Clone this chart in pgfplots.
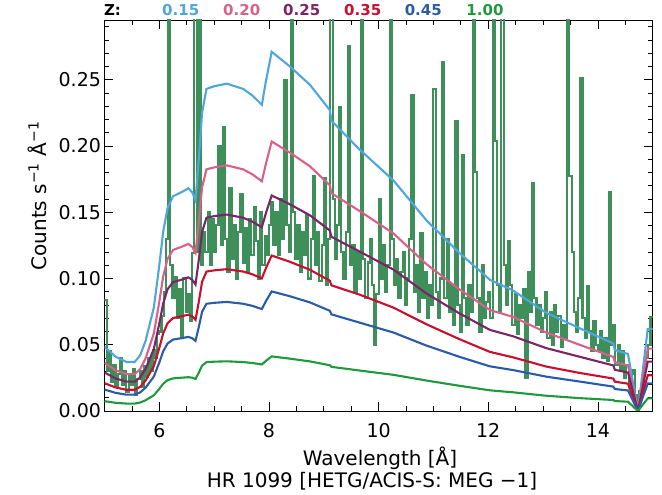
\documentclass[border=0pt]{standalone}
\usepackage{fontspec}
\setmainfont{DejaVu Sans}
\usepackage{pgfplots}
\usepackage{pgfplotstable}
\pgfplotsset{compat=1.18}
\definecolor{clb}{HTML}{4DA6DC}
\definecolor{cpk}{HTML}{D9608A}
\definecolor{cpu}{HTML}{7B2466}
\definecolor{crd}{HTML}{C8102E}
\definecolor{cbl}{HTML}{2A5BA8}
\definecolor{cgr}{HTML}{1E9A3C}
\definecolor{cdata}{HTML}{3F8F5B}

\pgfplotstableread{
x lb pk pu rd bl gr
5.00 0.0485 0.0364 0.0291 0.0210 0.0162 0.0074
5.20 0.0410 0.0308 0.0246 0.0178 0.0137 0.0062
5.40 0.0370 0.0278 0.0222 0.0160 0.0123 0.0056
5.55 0.0370 0.0278 0.0222 0.0160 0.0123 0.0056
5.65 0.0420 0.0315 0.0252 0.0182 0.0140 0.0064
5.75 0.0530 0.0398 0.0318 0.0230 0.0176 0.0081
5.90 0.0780 0.0585 0.0468 0.0338 0.0260 0.0119
6.00 0.1100 0.0825 0.0660 0.0476 0.0366 0.0167
6.07 0.1350 0.1013 0.0810 0.0585 0.0450 0.0205
6.15 0.1530 0.1148 0.0918 0.0662 0.0509 0.0233
6.25 0.1620 0.1215 0.0972 0.0701 0.0539 0.0246
6.40 0.1650 0.1238 0.0990 0.0714 0.0549 0.0251
6.53 0.1680 0.1260 0.1008 0.0727 0.0559 0.0255
6.60 0.1650 0.1238 0.0990 0.0714 0.0549 0.0251
6.66 0.1590 0.1193 0.0954 0.0688 0.0529 0.0242
6.72 0.1900 0.1425 0.1140 0.0823 0.0633 0.0289
6.78 0.2250 0.1688 0.1350 0.0974 0.0749 0.0342
6.86 0.2430 0.1823 0.1458 0.1052 0.0809 0.0369
7.00 0.2450 0.1838 0.1470 0.1061 0.0816 0.0372
7.23 0.2470 0.1853 0.1482 0.1070 0.0823 0.0375
7.53 0.2430 0.1823 0.1458 0.1052 0.0809 0.0369
7.70 0.2380 0.1785 0.1428 0.1031 0.0793 0.0362
7.87 0.2310 0.1733 0.1386 0.1000 0.0769 0.0351
7.95 0.2500 0.1875 0.1500 0.1083 0.0833 0.0380
8.05 0.2710 0.2033 0.1626 0.1173 0.0902 0.0412
8.38 0.2600 0.1950 0.1560 0.1126 0.0866 0.0395
8.75 0.2460 0.1845 0.1476 0.1065 0.0819 0.0374
9.11 0.2270 0.1703 0.1362 0.0983 0.0756 0.0345
9.14 0.2190 0.1643 0.1314 0.0948 0.0729 0.0333
9.66 0.1970 0.1507 0.1202 0.0877 0.0666 0.0305
10.27 0.1740 0.1340 0.1067 0.0780 0.0592 0.0273
10.87 0.1440 0.1109 0.0888 0.0655 0.0494 0.0230
11.48 0.1190 0.0916 0.0735 0.0541 0.0408 0.0190
12.03 0.0990 0.0762 0.0612 0.0446 0.0337 0.0156
12.45 0.0910 0.0710 0.0564 0.0405 0.0309 0.0141
13.06 0.0740 0.0592 0.0474 0.0335 0.0259 0.0115
13.67 0.0624 0.0499 0.0409 0.0287 0.0222 0.0097
14.28 0.0510 0.0408 0.0344 0.0245 0.0184 0.0083
14.31 0.0460 0.0368 0.0311 0.0221 0.0166 0.0075
14.55 0.0430 0.0344 0.0290 0.0206 0.0155 0.0070
14.73 0.0000 0.0000 0.0000 0.0000 0.0000 0.0000
14.91 0.0620 0.0471 0.0372 0.0270 0.0208 0.0095
15.00 0.0620 0.0471 0.0372 0.0270 0.0208 0.0095
}\models

\pgfplotstableread{
x y
5.00 0.084
5.04 0.030
5.08 0.045
5.12 0.022
5.16 0.035
5.20 0.018
5.24 0.028
5.28 0.040
5.32 0.020
5.36 0.030
5.40 0.014
5.44 0.026
5.48 0.020
5.52 0.032
5.56 0.012
5.60 0.024
5.64 0.030
5.68 0.018
5.72 0.034
5.76 0.026
5.80 0.040
5.84 0.030
5.88 0.046
5.92 0.040
5.96 0.058
6.00 0.060
6.04 0.072
6.08 0.090
6.12 0.130
6.16 0.420
6.20 0.110
6.24 0.085
6.28 0.101
6.32 0.070
6.36 0.092
6.40 0.056
6.44 0.100
6.48 0.075
6.52 0.088
6.56 0.068
6.60 0.119
6.64 0.420
6.68 0.120
6.72 0.420
6.76 0.110
6.80 0.135
6.84 0.120
6.88 0.150
6.92 0.110
6.96 0.145
7.00 0.120
7.04 0.140
7.08 0.200
7.12 0.125
7.16 0.214
7.20 0.130
7.24 0.105
7.28 0.168
7.32 0.115
7.36 0.140
7.40 0.100
7.44 0.135
7.48 0.164
7.52 0.112
7.56 0.138
7.60 0.105
7.64 0.145
7.68 0.118
7.72 0.154
7.76 0.128
7.80 0.100
7.84 0.150
7.88 0.110
7.92 0.132
7.96 0.118
8.00 0.140
8.04 0.158
8.08 0.125
8.12 0.150
8.16 0.118
8.20 0.160
8.24 0.130
8.28 0.250
8.32 0.140
8.36 0.120
8.40 0.420
8.44 0.150
8.48 0.115
8.52 0.140
8.56 0.105
8.60 0.135
8.64 0.118
8.68 0.148
8.72 0.100
8.76 0.130
8.80 0.177
8.84 0.110
8.88 0.135
8.92 0.098
8.96 0.125
9.00 0.176
9.04 0.095
9.08 0.130
9.12 0.420
9.16 0.160
9.20 0.115
9.24 0.140
9.28 0.229
9.32 0.120
9.36 0.100
9.40 0.135
9.44 0.275
9.48 0.110
9.52 0.125
9.56 0.090
9.60 0.120
9.64 0.100
9.68 0.420
9.72 0.115
9.76 0.085
9.80 0.112
9.84 0.130
9.88 0.095
9.92 0.050
9.96 0.088
10.00 0.160
10.04 0.100
10.08 0.125
10.12 0.090
10.16 0.110
10.20 0.420
10.24 0.130
10.28 0.095
10.32 0.115
10.36 0.085
10.40 0.105
10.44 0.120
10.48 0.080
10.52 0.100
10.56 0.130
10.60 0.238
10.64 0.090
10.68 0.110
10.72 0.075
10.76 0.134
10.80 0.085
10.84 0.105
10.88 0.070
10.92 0.095
10.96 0.080
11.00 0.243
11.04 0.090
11.08 0.070
11.12 0.100
11.16 0.263
11.20 0.085
11.24 0.130
11.28 0.075
11.32 0.095
11.36 0.065
11.40 0.219
11.44 0.080
11.48 0.060
11.52 0.193
11.56 0.085
11.60 0.065
11.64 0.095
11.68 0.075
11.72 0.420
11.76 0.180
11.80 0.085
11.84 0.060
11.88 0.110
11.92 0.070
11.96 0.082
12.00 0.090
12.04 0.070
12.08 0.420
12.12 0.204
12.16 0.095
12.20 0.075
12.24 0.420
12.28 0.110
12.32 0.080
12.36 0.128
12.40 0.095
12.44 0.065
12.48 0.088
12.52 0.058
12.56 0.080
12.60 0.070
12.64 0.092
12.68 0.025
12.72 0.105
12.76 0.075
12.80 0.172
12.84 0.085
12.88 0.065
12.92 0.080
12.96 0.060
13.00 0.070
13.04 0.090
13.08 0.055
13.12 0.075
13.16 0.050
13.20 0.080
13.24 0.060
13.28 0.072
13.32 0.048
13.36 0.065
13.40 0.055
13.44 0.420
13.48 0.177
13.52 0.120
13.56 0.075
13.60 0.060
13.64 0.085
13.68 0.251
13.72 0.070
13.76 0.055
13.80 0.094
13.84 0.060
13.88 0.045
13.92 0.068
13.96 0.050
14.00 0.045
14.04 0.060
14.08 0.040
14.12 0.055
14.16 0.038
14.20 0.165
14.24 0.050
14.28 0.065
14.32 0.035
14.36 0.050
14.40 0.030
14.44 0.045
14.48 0.025
14.52 0.035
14.56 0.018
14.60 0.028
14.64 0.031
14.68 0.012
14.72 0.002
14.76 0.015
14.80 0.022
14.84 0.030
14.88 0.040
14.92 0.050
14.96 0.071
15.00 0.071
}\spectrum

\begin{document}
\begin{tikzpicture}
\path[use as bounding box] (-104.5pt,-84pt) rectangle (557.5pt,411pt);
\begin{axis}[
  at={(0pt,0pt)}, anchor=south west,
  scale only axis, width=548.2pt, height=391pt,
  xmin=5, xmax=15, ymin=0, ymax=0.295,
  xtick={6,8,10,12,14},
  minor xtick={5.5,6.5,7,7.5,8.5,9,9.5,10.5,11,11.5,12.5,13,13.5,14.5},
  ytick={0,0.05,0.10,0.15,0.20,0.25},
  minor ytick={0.01,0.02,0.03,0.04,0.06,0.07,0.08,0.09,0.11,0.12,0.13,0.14,0.16,0.17,0.18,0.19,0.21,0.22,0.23,0.24,0.26,0.27,0.28,0.29},
  tick align=inside, major tick length=9pt, minor tick length=5pt,
  tick style={black, line width=0.7pt},
  axis line style={line width=0.8pt},
  /pgf/number format/assume math mode=true,
  tick label style={font=\fontsize{19}{22}\selectfont},
  yticklabel style={/pgf/number format/fixed, /pgf/number format/fixed zerofill, /pgf/number format/precision=2},
  xticklabel style={yshift=-9pt},
  scaled y ticks=false,
  clip mode=individual,
]
\addplot[const plot, color=cdata, line width=2.1pt] table[x=x,y=y] {\spectrum};
\addplot[color=clb, line width=2.1pt] table[x=x,y=lb] {\models};
\addplot[color=cpk, line width=2.1pt] table[x=x,y=pk] {\models};
\addplot[color=cpu, line width=2.1pt] table[x=x,y=pu] {\models};
\addplot[color=crd, line width=2.1pt] table[x=x,y=rd] {\models};
\addplot[color=cbl, line width=2.1pt] table[x=x,y=bl] {\models};
\addplot[color=cgr, line width=2.1pt] table[x=x,y=gr] {\models};
\end{axis}
\node[font=\fontsize{20}{24}\selectfont] at (275.5pt,-47pt) {Wavelength [Å]};
\node[font=\fontsize{20}{24}\selectfont] at (267.5pt,-70pt) {HR 1099 [HETG/ACIS-S: MEG −1]};
\node[rotate=90, font=\fontsize{20}{24}\selectfont] at (-67.5pt,215pt) {Counts s\textsuperscript{−1} Å\textsuperscript{−1}};
\node[anchor=base, font=\fontsize{15}{17}\selectfont\bfseries] at (8pt,395pt) {Z:};
\node[anchor=base, font=\fontsize{15}{17}\selectfont\bfseries, text=clb] at (76.2pt,395pt) {0.15};
\node[anchor=base, font=\fontsize{15}{17}\selectfont\bfseries, text=cpk] at (137.2pt,395pt) {0.20};
\node[anchor=base, font=\fontsize{15}{17}\selectfont\bfseries, text=cpu] at (197.2pt,395pt) {0.25};
\node[anchor=base, font=\fontsize{15}{17}\selectfont\bfseries, text=crd] at (258.2pt,395pt) {0.35};
\node[anchor=base, font=\fontsize{15}{17}\selectfont\bfseries, text=cbl] at (318.8pt,395pt) {0.45};
\node[anchor=base, font=\fontsize{15}{17}\selectfont\bfseries, text=cgr] at (380.5pt,395pt) {1.00};
\end{tikzpicture}
\end{document}
